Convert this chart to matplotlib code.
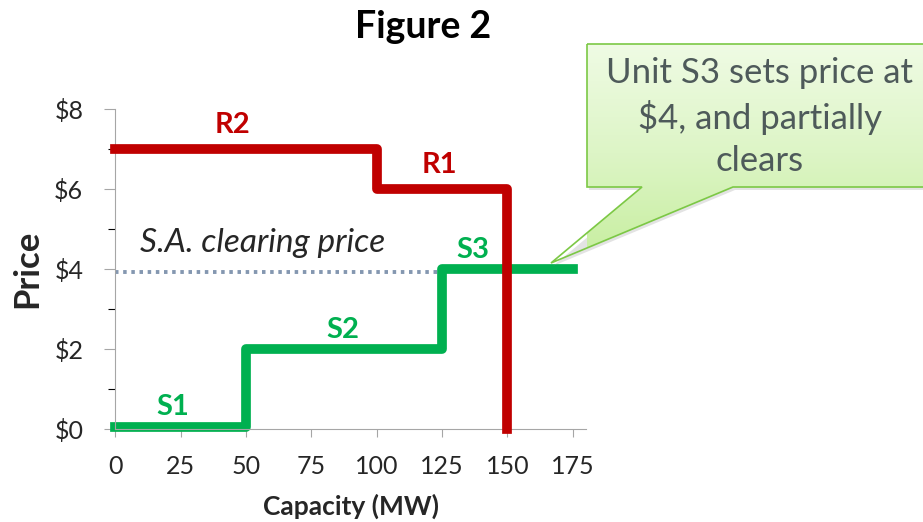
import numpy as np
import matplotlib
matplotlib.use("Agg")
import matplotlib.pyplot as plt
from matplotlib.patches import Polygon
from matplotlib.colors import LinearSegmentedColormap
from matplotlib.ticker import FixedLocator, FuncFormatter

plt.rcParams['font.family'] = ['Lato', 'DejaVu Sans']

# demand steps (R2 then R1), drawn as steps-post
demand_mw = [0, 100, 150]
demand_price = [7, 6, 0]
# supply steps S1, S2, S3
supply_mw = [0, 50, 125, 175]
supply_price = [0.06, 2, 4, 4]
clearing_mw = [0, 123]
clearing_price = 3.92

x_ticks = [0, 25, 50, 75, 100, 125, 150, 175]
y_ticks = [0, 2, 4, 6, 8]

# step labels: text, x, y
red_labels = [("R2", 45, 7.6), ("R1", 124, 6.6)]
green_labels = [("S1", 22, 0.54), ("S2", 87, 2.48), ("S3", 137, 4.48)]

RED = "#C00000"
GREEN = "#00B050"
GRAY = "#A6A6A6"
TXT = "#262626"

fig = plt.figure(figsize=(9.23, 5.22), dpi=100)
ax = fig.add_axes([0.1249, 0.1782, 0.5097, 0.613])

ax.plot(clearing_mw, [clearing_price] * 2, color="#8497B0", lw=2.8,
        linestyle=(0, (0.9, 1.2)), zorder=1)
ax.plot(supply_mw, supply_price, drawstyle="steps-post", color=GREEN,
        lw=7, solid_joinstyle="round", clip_on=False, zorder=2)
ax.plot(demand_mw, demand_price, drawstyle="steps-post", color=RED,
        lw=7, solid_joinstyle="round", clip_on=False, zorder=3)

for txt, x, y in red_labels:
    ax.text(x, y, txt, color=RED, fontsize=21, fontweight="bold",
            ha="center", va="center")
for txt, x, y in green_labels:
    ax.text(x, y, txt, color=GREEN, fontsize=21, fontweight="bold",
            ha="center", va="center")
ax.text(9.5, 4.65, "S.A. clearing price", color=TXT, fontsize=24,
        fontstyle="italic", ha="left", va="center")

ax.set_xlim(0, 180)
ax.set_ylim(0, 8)
ax.set_xticks(x_ticks)
ax.set_yticks(y_ticks)
ax.yaxis.set_minor_locator(FixedLocator([1, 3, 5, 7]))
ax.yaxis.set_major_formatter(FuncFormatter(lambda v, p: r"\$%d" % v))
ax.tick_params(axis="both", colors=GRAY, labelcolor=TXT, labelsize=18)
ax.tick_params(axis="y", which="major", length=8, width=0.8, pad=15)
ax.tick_params(axis="y", which="minor", length=5, width=0.8)
ax.tick_params(axis="x", which="major", length=6, width=0.8, pad=13)
for side in ["top", "right"]:
    ax.spines[side].set_visible(False)
for side in ["left", "bottom"]:
    ax.spines[side].set_color(GRAY)
    ax.spines[side].set_linewidth(0.8)

ax.set_xlabel("Capacity (MW)", fontsize=19, fontweight="bold", color=TXT,
              labelpad=11)
ax.set_ylabel("Price", fontsize=25, fontweight="bold", color=TXT, labelpad=8)
fig.text(0.458, 0.948, "Figure 2", fontsize=27, fontweight="bold",
         color="black", ha="center", va="center")

# callout drawn in pixel coordinates on an overlay
ov = fig.add_axes([0, 0, 1, 1], zorder=5)
ov.axis("off")
pts = [(587, 44), (935, 44), (935, 187), (733, 187), (551, 263),
       (642, 187), (587, 187)]
shadow = Polygon([(x + 2, y + 3) for x, y in pts], closed=True,
                 facecolor="#909090", alpha=0.25, edgecolor="none", zorder=1)
ov.add_patch(shadow)
poly = Polygon(pts, closed=True, facecolor="none", edgecolor="#7CC845",
               lw=1.2, zorder=3)
ov.add_patch(poly)
cmap = LinearSegmentedColormap.from_list("callout", ["#EFFBE4", "#DDF5C6", "#C6EE9E"])
grad = np.linspace(0, 1, 256).reshape(-1, 1)
im = ov.imshow(grad, extent=(587, 935, 263, 44), cmap=cmap, aspect="auto",
               zorder=2)
im.set_clip_path(poly)
ov.set_xlim(0, 923)
ov.set_ylim(522, 0)
ov.text(760, 117, "Unit S3 sets price at\n\\$4, and partially\nclears",
        ha="center", va="center", fontsize=25, color="#4E5A5A",
        linespacing=1.38, zorder=4)

fig.savefig("out.png", dpi=100)
